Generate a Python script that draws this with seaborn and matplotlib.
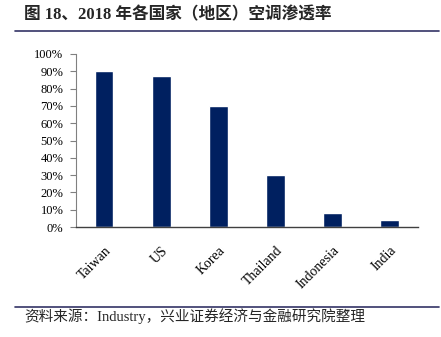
import matplotlib
matplotlib.use("Agg")
import matplotlib.pyplot as plt
import seaborn as sns
import pandas as pd
from matplotlib.lines import Line2D
from matplotlib.ticker import FuncFormatter, MultipleLocator

categories = ["Taiwan", "US", "Korea", "Thailand", "Indonesia", "India"]
values = [0.90, 0.87, 0.70, 0.30, 0.08, 0.04]
title = "图 18、2018 年各国家（地区）空调渗透率"
source = "资料来源：Industry，兴业证券经济与金融研究院整理"

sns.set_theme(style="white")
plt.rcParams['font.family'] = ['Liberation Serif', 'Noto Sans CJK SC', 'DejaVu Sans']

df = pd.DataFrame({"cat": categories, "val": values})

fig = plt.figure(figsize=(4.41, 3.37), dpi=100)
ax = fig.add_axes([0.172, 0.326, 0.776, 0.514])
sns.barplot(data=df, x="cat", y="val", color="#002060", width=0.32, ax=ax, saturation=1)

ax.set_ylim(0, 1.0)
ax.set_xlim(-0.5, 5.5)
ax.yaxis.set_major_locator(MultipleLocator(0.1))
ax.yaxis.set_major_formatter(FuncFormatter(lambda v, p: f"{int(round(v*100))}%"))
ax.set_xlabel("")
ax.set_ylabel("")
for s in ["top", "right"]:
    ax.spines[s].set_visible(False)
ax.spines["left"].set_color("#808080")
ax.spines["left"].set_linewidth(0.8)
ax.spines["bottom"].set_color("#404040")
ax.spines["bottom"].set_linewidth(1.0)
ax.tick_params(axis="y", left=True, length=4, width=0.8, color="#808080",
               labelsize=9, pad=5, labelcolor="#000000")
ax.tick_params(axis="x", bottom=False, labelsize=10, pad=6, labelcolor="#000000")
plt.setp(ax.get_xticklabels(), rotation=45, ha="right", rotation_mode="anchor")
for lab in ax.get_xticklabels():
    lab.set_fontfamily(['Liberation Serif'])
for lab in ax.get_yticklabels():
    lab.set_fontfamily(['Liberation Serif'])

fig.text(0.054, 0.955, title, fontsize=12, fontweight="bold", va="center", ha="left",
         family=['Liberation Serif', 'Noto Sans CJK SC'])
fig.add_artist(Line2D([0.034, 0.995], [0.908, 0.908], color="#333366", linewidth=1.2))
fig.add_artist(Line2D([0.034, 0.995], [0.089, 0.089], color="#333366", linewidth=1.2))
fig.text(0.054, 0.062, source, fontsize=10.5, va="center", ha="left",
         family=['Liberation Serif', 'Noto Sans CJK SC'])

fig.savefig("out.png", dpi=100)
